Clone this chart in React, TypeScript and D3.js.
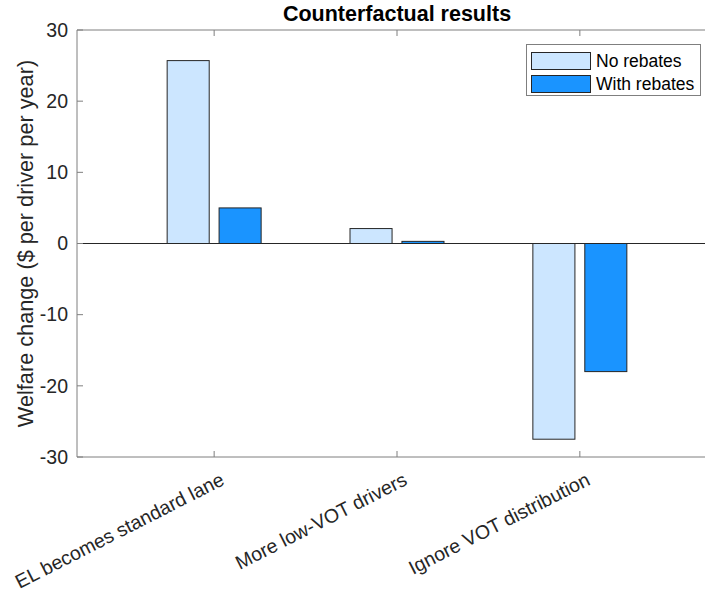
import React from "react";
import * as d3 from "d3";

const categories = ["EL becomes standard lane", "More low-VOT drivers", "Ignore VOT distribution"];
const noRebates = [25.7, 2.1, -27.5];
const withRebates = [5.0, 0.3, -18.0];
const seriesNames = ["No rebates", "With rebates"];
const yTicks = [-30, -20, -10, 0, 10, 20, 30];

const W = 705;
const H = 601;
const M = { left: 77, right: 717, top: 30, bottom: 457 };
const colors = ["#cce6ff", "#1a94ff"];
const font = "'Liberation Sans', Arial, Helvetica, sans-serif";
const axisColor = "#7f7f7f";
const textColor = "#262626";

export default function App() {
  const x = d3.scaleLinear().domain([0.25, 3.75]).range([M.left, M.right]);
  const y = d3.scaleLinear().domain([-30, 30]).range([M.bottom, M.top]);
  const barW = x(0.23) - x(0);
  const offs = [-0.142, 0.142];
  const series = [noRebates, withRebates];

  return (
    <svg width={W} height={H} style={{ position: "absolute", left: 0, top: 0, background: "#fff" }} fontFamily={font}>
      <rect x={0} y={0} width={W} height={H} fill="#fff" />
      {/* bars */}
      {series.map((vals, s) =>
        vals.map((v, i) => {
          const cx = x(i + 1 + offs[s]);
          const y0 = y(0);
          const y1 = y(v);
          return (
            <rect
              key={`${s}-${i}`}
              x={cx - barW / 2}
              y={Math.min(y0, y1)}
              width={barW}
              height={Math.abs(y1 - y0)}
              fill={colors[s]}
              stroke="#262626"
              strokeWidth={1}
            />
          );
        })
      )}
      {/* baseline */}
      <line x1={M.left} x2={W} y1={y(0)} y2={y(0)} stroke="#262626" strokeWidth={1} />
      {/* axes box */}
      <line x1={M.left} x2={M.left} y1={M.top} y2={M.bottom} stroke={axisColor} strokeWidth={1} />
      <line x1={M.left} x2={W} y1={M.top} y2={M.top} stroke={axisColor} strokeWidth={1} />
      <line x1={M.left} x2={W} y1={M.bottom} y2={M.bottom} stroke={axisColor} strokeWidth={1} />
      {/* y ticks */}
      {yTicks.map((t) => (
        <g key={t}>
          <line x1={M.left} x2={M.left + 6} y1={y(t)} y2={y(t)} stroke={axisColor} strokeWidth={1} />
          <text x={M.left - 9} y={y(t)} dy="0.35em" textAnchor="end" fontSize={19.5} fill={textColor}>
            {t}
          </text>
        </g>
      ))}
      {/* x ticks */}
      {categories.map((c, i) => (
        <g key={c}>
          <line x1={x(i + 1)} x2={x(i + 1)} y1={M.bottom} y2={M.bottom - 6} stroke={axisColor} strokeWidth={1} />
          <line x1={x(i + 1)} x2={x(i + 1)} y1={M.top} y2={M.top + 6} stroke={axisColor} strokeWidth={1} />
          <text
            transform={`translate(${x(i + 1) + 11.5},${M.bottom + 27}) rotate(-27)`}
            textAnchor="end"
            fontSize={19.5}
            fill={textColor}
          >
            {c}
          </text>
        </g>
      ))}
      {/* y label */}
      <text
        transform={`translate(33,${(M.top + M.bottom) / 2}) rotate(-90)`}
        textAnchor="middle"
        fontSize={21.7}
        fill={textColor}
      >
        Welfare change ($ per driver per year)
      </text>
      {/* title */}
      <text x={(M.left + M.right) / 2} y={21} textAnchor="middle" fontSize={21.5} fontWeight="bold" fill="#000">
        Counterfactual results
      </text>
      {/* legend */}
      <g>
        <rect x={526.5} y={44.5} width={174} height={51} fill="#fff" stroke={axisColor} strokeWidth={1} />
        {seriesNames.map((n, s) => (
          <g key={n}>
            <rect x={531.5} y={52.5 + s * 23} width={59} height={17} fill={colors[s]} stroke="#262626" strokeWidth={1} />
            <text x={596} y={61 + s * 23} dy="0.35em" fontSize={17.5} fill="#000">
              {n}
            </text>
          </g>
        ))}
      </g>
    </svg>
  );
}
